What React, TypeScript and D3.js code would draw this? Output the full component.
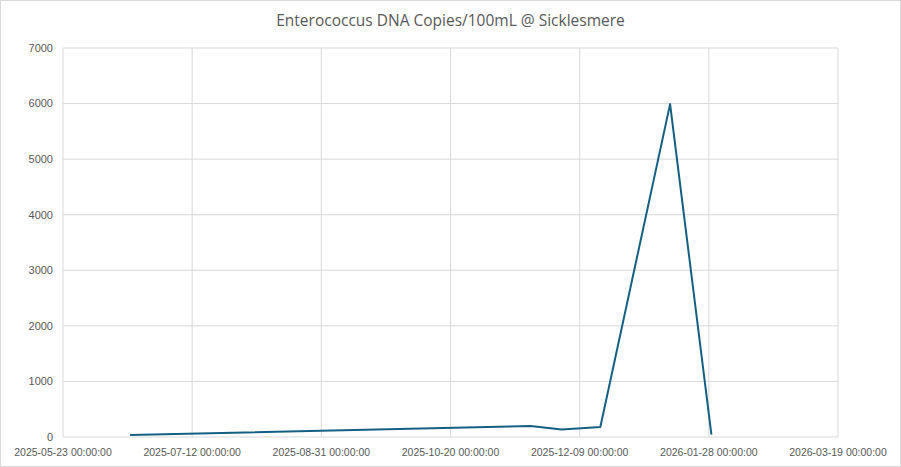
import React, { useEffect, useRef } from 'react';
import * as d3 from 'd3';

// Sample dates and Enterococcus readings (copies/100mL)
const sampleDates = [
  '2025-06-18',
  '2025-11-20',
  '2025-12-02',
  '2025-12-17',
  '2026-01-13',
  '2026-01-29',
];
const copiesPer100mL = [35, 198, 133, 180, 5990, 43];

const yTicks = [0, 1000, 2000, 3000, 4000, 5000, 6000, 7000];
const xTickDates = [
  '2025-05-23',
  '2025-07-12',
  '2025-08-31',
  '2025-10-20',
  '2025-12-09',
  '2026-01-28',
  '2026-03-19',
];

const App = () => {
  const ref = useRef<SVGSVGElement>(null);

  useEffect(() => {
    const width = 901;
    const height = 467;
    const margin = { top: 48, right: 63, bottom: 30, left: 63 };
    const parse = d3.utcParse('%Y-%m-%d');

    const svg = d3.select(ref.current);
    svg.selectAll('*').remove();

    // Chart background + border
    svg.append('rect')
      .attr('x', 0.5)
      .attr('y', 0.5)
      .attr('width', width - 1)
      .attr('height', height - 1)
      .attr('fill', '#fff')
      .attr('stroke', '#d9d9d9');

    const x = d3.scaleUtc()
      .domain([parse(xTickDates[0])!, parse(xTickDates[xTickDates.length - 1])!])
      .range([margin.left, width - margin.right]);

    const y = d3.scaleLinear()
      .domain([0, 7000])
      .range([height - margin.bottom, margin.top]);

    // Horizontal gridlines
    svg.append('g')
      .selectAll('line')
      .data(yTicks)
      .enter()
      .append('line')
      .attr('x1', margin.left)
      .attr('x2', width - margin.right)
      .attr('y1', d => y(d))
      .attr('y2', d => y(d))
      .attr('stroke', '#d9d9d9')
      .attr('stroke-width', 1);

    // Vertical gridlines
    svg.append('g')
      .selectAll('line')
      .data(xTickDates)
      .enter()
      .append('line')
      .attr('x1', d => x(parse(d)!))
      .attr('x2', d => x(parse(d)!))
      .attr('y1', margin.top)
      .attr('y2', height - margin.bottom)
      .attr('stroke', '#d9d9d9')
      .attr('stroke-width', 1);

    // Y labels
    svg.append('g')
      .selectAll('text')
      .data(yTicks)
      .enter()
      .append('text')
      .attr('x', margin.left - 10)
      .attr('y', d => y(d))
      .attr('dy', '0.35em')
      .attr('text-anchor', 'end')
      .style('font-family', '"Liberation Sans", Arial, sans-serif')
      .style('font-size', '11px')
      .style('fill', '#595959')
      .text(d => d);

    // X labels
    svg.append('g')
      .selectAll('text')
      .data(xTickDates)
      .enter()
      .append('text')
      .attr('x', d => x(parse(d)!))
      .attr('y', height - margin.bottom + 15)
      .attr('dy', '0.35em')
      .attr('text-anchor', 'middle')
      .style('font-family', '"Liberation Sans", Arial, sans-serif')
      .style('font-size', '10.5px')
      .style('fill', '#595959')
      .text(d => `${d} 00:00:00`);

    // Series line
    const points = sampleDates.map((d, i) => ({ date: parse(d)!, value: copiesPer100mL[i] }));
    const line = d3.line<{ date: Date; value: number }>()
      .x(d => x(d.date))
      .y(d => y(d.value));

    svg.append('path')
      .datum(points)
      .attr('d', line)
      .attr('fill', 'none')
      .attr('stroke', '#156082')
      .attr('stroke-width', 2)
      .attr('stroke-linejoin', 'round');

    // Title
    svg.append('text')
      .attr('x', width / 2)
      .attr('y', 21)
      .attr('dy', '0.35em')
      .attr('text-anchor', 'middle')
      .style('font-family', '"Open Sans", sans-serif')
      .style('font-size', '15.5px')
      .style('fill', '#595959')
      .text('Enterococcus DNA Copies/100mL @ Sicklesmere');
  }, []);

  return (
    <div style={{ position: 'absolute', left: 0, top: 0 }}>
      <svg ref={ref} width={901} height={467} style={{ display: 'block' }} />
    </div>
  );
};

export default App;
